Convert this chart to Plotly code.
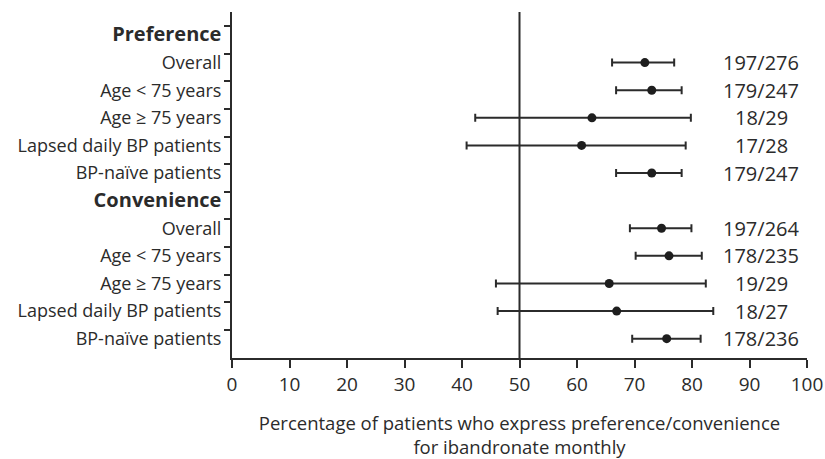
import plotly.graph_objects as go

# ---- data ----
HDR = '<b><span style="font-size:20px">{}</span></b>'
row_labels = [HDR.format("Preference"), "Overall", "Age &lt; 75 years", "Age ≥ 75 years",
              "Lapsed daily BP patients", "BP-naïve patients",
              HDR.format("Convenience"), "Overall", "Age &lt; 75 years", "Age ≥ 75 years",
              "Lapsed daily BP patients", "BP-naïve patients"]
row_pos = [0, 1, 2, 3, 4, 5, 6, 7, 8, 9, 10, 11]
data_rows = [1, 2, 3, 4, 5, 7, 8, 9, 10, 11]
estimate = [71.8, 73.0, 62.6, 60.8, 73.0, 74.7, 76.0, 65.6, 66.9, 75.6]
ci_low = [66.1, 66.8, 42.3, 40.8, 66.8, 69.2, 70.2, 45.9, 46.2, 69.6]
ci_high = [76.9, 78.2, 79.8, 78.9, 78.2, 79.9, 81.7, 82.4, 83.7, 81.5]
counts = ["197/276", "179/247", "18/29", "17/28", "179/247",
          "197/264", "178/235", "19/29", "18/27", "178/236"]
x_ticks = [0, 10, 20, 30, 40, 50, 60, 70, 80, 90, 100]
ref_value = 50
count_x = 92
x_title = "Percentage of patients who express preference/convenience<br>for ibandronate monthly"

INK = "#2b2b2b"
FONT = "'Open Sans', Lato, sans-serif"

err_plus = [h - e for h, e in zip(ci_high, estimate)]
err_minus = [e - l for e, l in zip(estimate, ci_low)]

fig = go.Figure()
fig.add_trace(go.Scatter(
    x=estimate, y=data_rows, mode="markers",
    marker=dict(size=9, color="#1e1e1e"),
    error_x=dict(type="data", symmetric=False, array=err_plus, arrayminus=err_minus,
                 color=INK, thickness=2, width=4),
    showlegend=False, hoverinfo="skip",
))
# invisible trace on second y axis to carry the tick marks
fig.add_trace(go.Scatter(x=[None], y=[None], yaxis="y2", showlegend=False))

for r, c in zip(data_rows, counts):
    fig.add_annotation(x=count_x, y=r, text=c, showarrow=False, xanchor="center",
                       yanchor="middle", font=dict(size=20, color=INK, family=FONT))

fig.add_vline(x=ref_value, line=dict(color=INK, width=2))

yr = [11.70, -0.833]
fig.update_layout(
    width=825, height=459,
    margin=dict(l=232, r=18, t=12, b=101, autoexpand=False),
    paper_bgcolor="white", plot_bgcolor="white",
    font=dict(family=FONT, color=INK),
    xaxis=dict(range=[0, 100], tickvals=x_ticks, showgrid=False, zeroline=False,
               showline=True, linecolor=INK, linewidth=2, ticks="outside",
               ticklen=8, tickwidth=2, tickcolor=INK,
               tickfont=dict(size=19, color=INK, family=FONT),
               title=dict(text=x_title, font=dict(size=18.5, color=INK, family=FONT), standoff=25)),
    yaxis=dict(range=yr, tickvals=row_pos, ticktext=row_labels, showgrid=False,
               zeroline=False, showline=True, linecolor=INK, linewidth=2, ticks="",
               ticklabelstandoff=5,
               tickfont=dict(size=18, color=INK, family=FONT)),
    yaxis2=dict(range=yr, overlaying="y", side="left", tickvals=[p - 0.32 for p in row_pos],
                showticklabels=False, ticks="outside", ticklen=7, tickwidth=2,
                tickcolor=INK, showgrid=False, zeroline=False, showline=False),
)

fig.write_html("out.html", config={"displayModeBar": False},
               post_script="document.body.style.margin='0';document.body.style.overflow='hidden';")
